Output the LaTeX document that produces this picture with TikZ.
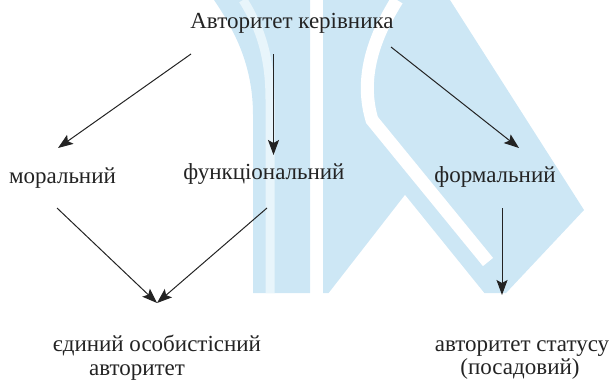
\documentclass[tikz,border=0pt]{standalone}
\usepackage{fontspec}
\setmainfont{Liberation Serif}
\usetikzlibrary{arrows.meta}
\definecolor{wmblue}{RGB}{205,231,245}
\definecolor{wmlight}{RGB}{232,245,251}
\definecolor{ink}{RGB}{35,35,35}
\tikzset{
  lbl/.style={inner sep=0pt, anchor=base, text=ink, font=\fontsize{23}{27}\selectfont},
  arr/.style={draw=ink, line width=1pt, -{Stealth[length=15pt,width=11pt,inset=3pt]}}
}
\begin{document}
\begin{tikzpicture}[x=1pt,y=-1pt]
\useasboundingbox (0,0) rectangle (609,380);
% watermark
\begin{scope}
\fill[wmblue] (214,0) .. controls (238,35) and (253,70) .. (253,115) -- (253,293) -- (310,293) -- (310,0) -- cycle;
\draw[wmlight, line width=9pt] (243,0) .. controls (262,30) and (270,60) .. (270,100) -- (270,293);
\fill[wmblue] (323,0) -- (450,0) -- (584,210) -- (506,293) -- (323,293) -- cycle;
\draw[white, line width=13pt] (397,0) .. controls (372,40) and (360,80) .. (372,120) -- (488,262);
\fill[white] (405,195) -- (328,294) -- (485,294) -- cycle;
\end{scope}
% texts
\node[lbl] (title) at (292,28) {Авторитет керівника};
\node[lbl] (moral) at (62.5,183) {моральний};
\node[lbl] (func) at (264,179) {функціональний};
\node[lbl] (form) at (495,182) {формальний};
\node[lbl] (pers1) at (157,351) {єдиний особистісний};
\node[lbl] (pers2) at (137,375) {авторитет};
\node[lbl] (stat1) at (522,351) {авторитет статусу};
\node[lbl] (stat2) at (520,374.5) {(посадовий)};
% connector end points
\coordinate (t1) at (191,54);
\coordinate (t2) at (273.5,54);
\coordinate (t3) at (391,47);
\coordinate (m1) at (58,148);
\coordinate (f1) at (273.5,155);
\coordinate (r1) at (519,148);
\coordinate (m2) at (57,208);
\coordinate (f2) at (267,208);
\coordinate (r2) at (502,208);
\coordinate (p1) at (157,303);
\coordinate (s1) at (502,295);
\draw[arr] (t1) -- (m1);
\draw[arr] (t2) -- (f1);
\draw[arr] (t3) -- (r1);
\draw[arr] (m2) -- (p1);
\draw[arr] (f2) -- (p1);
\draw[arr] (r2) -- (s1);
\end{tikzpicture}
\end{document}
